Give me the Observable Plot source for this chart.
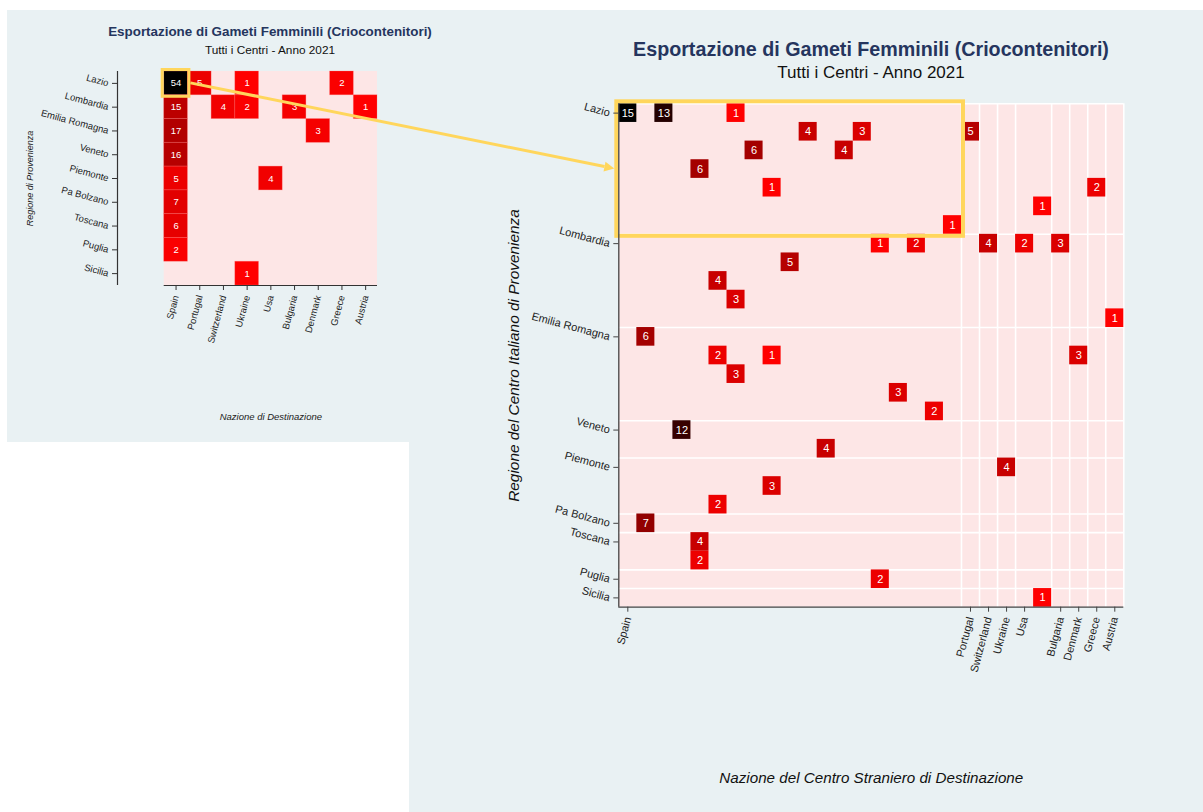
<!DOCTYPE html>
<html>
<head>
<meta charset="utf-8">
<script src="https://cdn.jsdelivr.net/npm/d3@7"></script>
<script src="https://cdn.jsdelivr.net/npm/@observablehq/plot@0.6"></script>
<style>
  body { margin: 0; background: #ffffff; font-family: "Liberation Sans", Arial, sans-serif; }
  #page { position: relative; width: 1203px; height: 812px; overflow: hidden; background: #fff; }
  .panel { position: absolute; background: #e9f1f3; }
  #leftPanel { left: 7px; top: 10px; width: 402px; height: 432px; }
  #rightPanel { left: 409px; top: 10px; width: 794px; height: 802px; }
  .title { position: absolute; font-weight: bold; color: #25355e; text-align: center; white-space: nowrap; }
  .sub { position: absolute; color: #111; text-align: center; white-space: nowrap; }
  .holder { position: absolute; }
  #overlay { position: absolute; left: 0; top: 0; pointer-events: none; }
</style>
</head>
<body>
<div id="page">
  <div class="panel" id="leftPanel"></div>
  <div class="panel" id="rightPanel"></div>
  <div class="holder" id="leftHolder" style="left:7px; top:60px;"></div>
  <div class="holder" id="rightHolder" style="left:409px; top:85px;"></div>
  <div class="title" id="t1" style="left:-30px; width:600px; top:24px; font-size:13.4px; line-height:16px;"></div>
  <div class="sub" id="s1" style="left:-30px; width:600px; top:43px; font-size:11.8px; line-height:14px;"></div>
  <div class="title" id="t2" style="left:571px; width:600px; top:38px; font-size:19.7px; line-height:22px;"></div>
  <div class="sub" id="s2" style="left:571px; width:600px; top:63px; font-size:17px; line-height:20px;"></div>
</div>
<script>
// ---------- Text ----------
const titleText = "Esportazione di Gameti Femminili (Criocontenitori)";
const subtitleText = "Tutti i Centri - Anno 2021";
const leftXTitle = "Nazione di Destinazione";
const leftYTitle = "Regione di Provenienza";
const rightXTitle = "Nazione del Centro Straniero di Destinazione";
const rightYTitle = "Regione del Centro Italiano di Provenienza";

// ---------- Categories ----------
const regions = ["Lazio", "Lombardia", "Emilia Romagna", "Veneto", "Piemonte", "Pa Bolzano", "Toscana", "Puglia", "Sicilia"];
const nations = ["Spain", "Portugal", "Switzerland", "Ukraine", "Usa", "Bulgaria", "Denmark", "Greece", "Austria"];

// number of centres (sub-rows / sub-columns) per category in the detail view
const regionCenters = [7, 5, 5, 2, 3, 1, 2, 1, 1];
const nationCenters = [19, 1, 1, 1, 2, 1, 1, 1, 1];

// ---------- Summary (left) ----------
const sumRegion = ["Lazio", "Lazio", "Lazio", "Lazio",
  "Lombardia", "Lombardia", "Lombardia", "Lombardia", "Lombardia",
  "Emilia Romagna", "Emilia Romagna", "Veneto", "Piemonte", "Piemonte",
  "Pa Bolzano", "Toscana", "Puglia", "Sicilia"];
const sumNation = ["Spain", "Portugal", "Ukraine", "Greece",
  "Spain", "Switzerland", "Ukraine", "Bulgaria", "Austria",
  "Spain", "Denmark", "Spain", "Spain", "Usa",
  "Spain", "Spain", "Spain", "Ukraine"];
const sumValue = [54, 5, 1, 2, 15, 4, 2, 3, 1, 17, 3, 16, 5, 4, 7, 6, 2, 1];

// ---------- Detail (right): centre-level flows ----------
const detRegion = [
  "Lazio", "Lazio", "Lazio", "Lazio", "Lazio", "Lazio", "Lazio", "Lazio", "Lazio", "Lazio", "Lazio", "Lazio", "Lazio",
  "Lombardia", "Lombardia", "Lombardia", "Lombardia", "Lombardia", "Lombardia", "Lombardia", "Lombardia", "Lombardia",
  "Emilia Romagna", "Emilia Romagna", "Emilia Romagna", "Emilia Romagna", "Emilia Romagna", "Emilia Romagna", "Emilia Romagna",
  "Veneto", "Veneto",
  "Piemonte", "Piemonte", "Piemonte",
  "Pa Bolzano",
  "Toscana", "Toscana",
  "Puglia",
  "Sicilia"];
const detRegionCenter = [1, 1, 1, 2, 2, 2, 3, 3, 4, 5, 5, 6, 7,
  1, 1, 1, 1, 1, 2, 3, 4, 5,
  1, 2, 2, 2, 3, 4, 5,
  1, 2,
  1, 2, 3,
  1,
  1, 2,
  1,
  1];
const detNation = [
  "Spain", "Spain", "Spain", "Spain", "Spain", "Portugal", "Spain", "Spain", "Spain", "Spain", "Greece", "Usa", "Spain",
  "Spain", "Spain", "Switzerland", "Usa", "Bulgaria", "Spain", "Spain", "Spain", "Austria",
  "Spain", "Spain", "Spain", "Denmark", "Spain", "Spain", "Spain",
  "Spain", "Spain",
  "Ukraine", "Spain", "Spain",
  "Spain",
  "Spain", "Spain",
  "Spain",
  "Usa"];
const detNationCenter = [1, 3, 7, 11, 14, 1, 8, 13, 5, 9, 1, 2, 19,
  15, 17, 1, 1, 1, 10, 6, 7, 1,
  2, 6, 9, 1, 7, 16, 18,
  4, 12,
  1, 9, 6,
  2,
  5, 5,
  15,
  2];
const detValue = [15, 13, 1, 4, 3, 5, 6, 4, 6, 1, 2, 1, 1,
  1, 2, 4, 2, 3, 5, 4, 3, 1,
  6, 2, 1, 3, 3, 3, 2,
  12, 4,
  4, 3, 2,
  7,
  4, 2,
  2,
  1];

// highlighted cell
const highlightRegion = "Lazio";
const highlightNation = "Spain";

// ---------- Build tables ----------
const yellow = "#ffd65c";
const pink = "#fde6e6";
const fontFamily = "'Liberation Sans', Arial, sans-serif";

const summary = sumValue.map((v, i) => ({
  value: v, row: regions.indexOf(sumRegion[i]), col: nations.indexOf(sumNation[i])
}));

const rowStartArr = regions.map((r, i) => d3.sum(regionCenters.slice(0, i)));
const colStartArr = nations.map((n, i) => d3.sum(nationCenters.slice(0, i)));
const nRows = d3.sum(regionCenters), nCols = d3.sum(nationCenters);
const detail = detValue.map((v, i) => ({
  value: v,
  row: rowStartArr[regions.indexOf(detRegion[i])] + detRegionCenter[i] - 1,
  col: colStartArr[nations.indexOf(detNation[i])] + detNationCenter[i] - 1
}));

const hRow = regions.indexOf(highlightRegion), hCol = nations.indexOf(highlightNation);

// ---------- Titles ----------
document.getElementById("t1").textContent = titleText;
document.getElementById("s1").textContent = subtitleText;
document.getElementById("t2").textContent = titleText;
document.getElementById("s2").textContent = subtitleText;

// ---------- Left plot (summary) ----------
const leftTickX = nations.map((n, i) => i + 0.5);
const leftTickY = regions.map((r, i) => i + 0.5);
const left = Plot.plot({
  width: 402, height: 382,
  marginLeft: 156.7, marginRight: 32, marginTop: 11, marginBottom: 157,
  x: {domain: [0, nations.length]},
  y: {domain: [0, regions.length], reverse: true},
  color: {type: "linear", domain: [1, d3.max(sumValue)], range: ["#ff0000", "#000000"], interpolate: "rgb"},
  style: {background: "transparent", fontFamily, fontSize: "9.5px", color: "#222", overflow: "visible"},
  marks: [
    Plot.rect([0], {x1: 0, x2: nations.length, y1: 0, y2: regions.length, fill: pink}),
    Plot.rect(summary, {x1: "col", x2: d => d.col + 1, y1: "row", y2: d => d.row + 1, fill: "value", stroke: "#ff7070", strokeOpacity: 0.35, strokeWidth: 0.8}),
    Plot.text(summary, {x: d => d.col + 0.5, y: d => d.row + 0.5, text: "value", fill: "white", fontSize: 9.5}),
    Plot.rect([0], {x1: hCol, x2: hCol + 1, y1: hRow, y2: hRow + 1, inset: -1.5, fill: "none", stroke: yellow, strokeWidth: 3}),
    Plot.ruleX([0], {y1: 0, y2: regions.length, dx: -46.7, stroke: "#333", strokeWidth: 1.2}),
    Plot.ruleY([regions.length], {x1: 0, x2: nations.length, stroke: "#333", strokeWidth: 1.2}),
    Plot.axisY({ticks: leftTickY, tickFormat: d => regions[Math.floor(d)], tickRotate: 15, tickSize: 5, dx: -46.7, fontSize: 9.5, label: null, stroke: "#333"}),
    Plot.axisX({ticks: leftTickX, tickFormat: d => nations[Math.floor(d)], tickRotate: -75, tickSize: 5, fontSize: 9.5, label: null, stroke: "#333"}),
    Plot.text([leftXTitle], {frameAnchor: "bottom", dy: 134, fontStyle: "italic", fontSize: 9.5, fill: "#222"}),
    Plot.text([leftYTitle], {frameAnchor: "left", dx: -133.7, rotate: -90, textAnchor: "middle", fontStyle: "italic", fontSize: 9, fill: "#222"})
  ]
});
document.getElementById("leftHolder").appendChild(left);

// ---------- Right plot (detail) ----------
const rightTickX = colStartArr.map(c => c + 0.5);
const rightTickY = rowStartArr.map(r => r + 0.5);
const xLabel = new Map(rightTickX.map((t, i) => [t, nations[i]]));
const yLabel = new Map(rightTickY.map((t, i) => [t, regions[i]]));
const colBounds = [...colStartArr.slice(1), nCols];
const rowBounds = [0, ...rowStartArr.slice(1)];

const right = Plot.plot({
  width: 794, height: 727,
  marginLeft: 209.3, marginRight: 79.7, marginTop: 18.3, marginBottom: 205.3,
  x: {domain: [0, nCols]},
  y: {domain: [0, nRows], reverse: true},
  color: {type: "linear", domain: [1, d3.max(detValue)], range: ["#ff0000", "#000000"], interpolate: "rgb"},
  style: {background: "transparent", fontFamily, fontSize: "11px", color: "#222", overflow: "visible"},
  marks: [
    Plot.rect([0], {x1: 0, x2: nCols, y1: 0, y2: nRows, fill: pink}),
    Plot.ruleX(colBounds, {y1: 0, y2: nRows, stroke: "white", strokeWidth: 1.6}),
    Plot.ruleY(rowBounds, {x1: 0, x2: nCols, stroke: "white", strokeWidth: 1.6}),
    Plot.rect(detail, {x1: "col", x2: d => d.col + 1, y1: "row", y2: d => d.row + 1, fill: "value"}),
    Plot.text(detail, {x: d => d.col + 0.5, y: d => d.row + 0.5, text: "value", fill: "white", fontSize: 11}),
    Plot.rect([0], {x1: colStartArr[hCol], x2: colStartArr[hCol] + nationCenters[hCol], y1: rowStartArr[hRow], y2: rowStartArr[hRow] + regionCenters[hRow], inset: -2, fill: "none", stroke: yellow, strokeWidth: 4}),
    Plot.ruleX([0], {y1: 0, y2: nRows, stroke: "#444", strokeWidth: 1.3}),
    Plot.ruleY([nRows], {x1: 0, x2: nCols, stroke: "#444", strokeWidth: 1.3}),
    Plot.axisX({ticks: rightTickX, tickFormat: d => xLabel.get(d), tickRotate: -75, tickSize: 5, fontSize: 11, label: null, stroke: "#444"}),
    Plot.axisY({ticks: rightTickY, tickFormat: d => yLabel.get(d), tickRotate: 15, tickSize: 5, fontSize: 11, label: null, stroke: "#444"}),
    Plot.text([rightXTitle], {frameAnchor: "bottom", dy: 176, fontStyle: "italic", fontSize: 15.2, fill: "#111"}),
    Plot.text([rightYTitle], {frameAnchor: "left", dx: -105, rotate: -90, textAnchor: "middle", fontStyle: "italic", fontSize: 15.4, fill: "#111"})
  ]
});
document.getElementById("rightHolder").appendChild(right);

// ---------- Arrow overlay (positions derived from both plots' scales) ----------
(function drawArrow() {
  const page = document.getElementById("page");
  const pr = page.getBoundingClientRect();
  const lr = left.getBoundingClientRect();
  const rr = right.getBoundingClientRect();
  const lx = left.scale("x"), ly = left.scale("y");
  const rx = right.scale("x"), ry = right.scale("y");
  const sx = lr.left - pr.left + lx.apply(hCol + 1) + 3;
  const sy = lr.top - pr.top + (ly.apply(hRow) + ly.apply(hRow + 1)) / 2;
  const tx = rr.left - pr.left + rx.apply(colStartArr[hCol]) - 4;
  const ty = rr.top - pr.top + (ry.apply(rowStartArr[hRow]) + ry.apply(rowStartArr[hRow] + regionCenters[hRow])) / 2;
  const ang = Math.atan2(ty - sy, tx - sx);
  const L = 10, Wd = 5;
  const bx = tx - L * Math.cos(ang), by = ty - L * Math.sin(ang);
  const px = -Math.sin(ang), py = Math.cos(ang);
  const ns = "http://www.w3.org/2000/svg";
  const svg = document.createElementNS(ns, "svg");
  svg.setAttribute("id", "overlay");
  svg.setAttribute("width", 1203);
  svg.setAttribute("height", 812);
  const line = document.createElementNS(ns, "line");
  line.setAttribute("x1", sx); line.setAttribute("y1", sy);
  line.setAttribute("x2", bx); line.setAttribute("y2", by);
  line.setAttribute("stroke", yellow); line.setAttribute("stroke-width", 3);
  svg.appendChild(line);
  const head = document.createElementNS(ns, "polygon");
  head.setAttribute("points", `${tx},${ty} ${bx + px * Wd},${by + py * Wd} ${bx - px * Wd},${by - py * Wd}`);
  head.setAttribute("fill", yellow);
  svg.appendChild(head);
  page.appendChild(svg);
})();
</script>
</body>
</html>
